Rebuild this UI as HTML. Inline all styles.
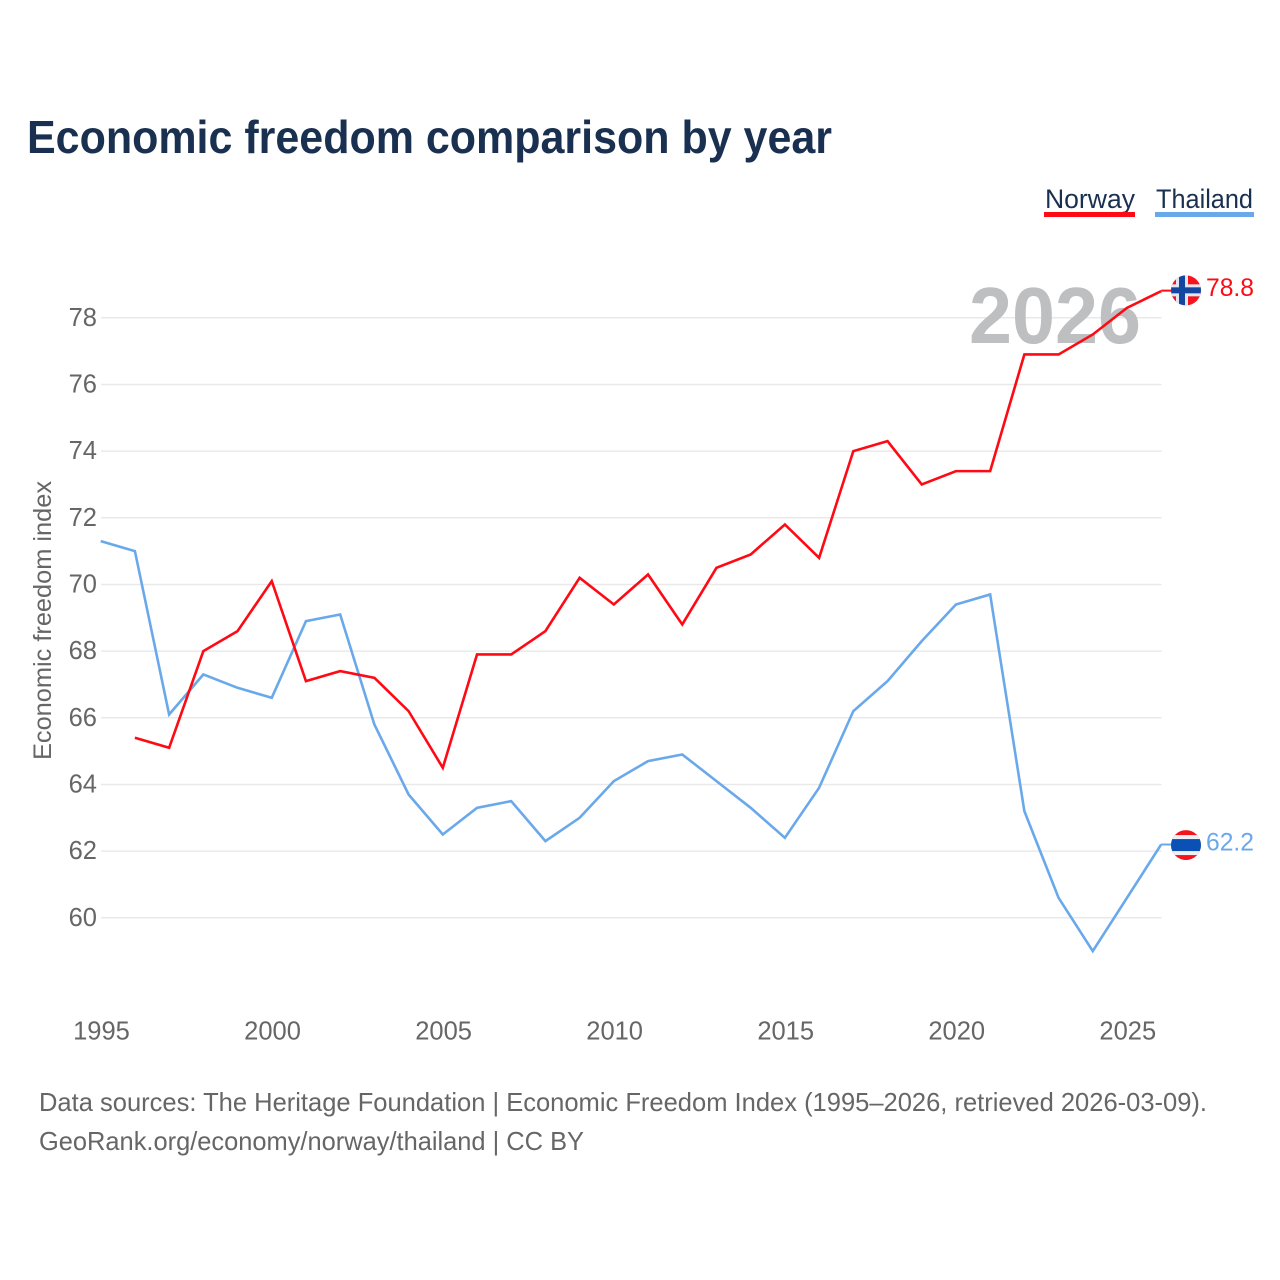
<!DOCTYPE html>
<html lang="en">
<head>
<meta charset="utf-8">
<title>Economic freedom comparison by year</title>
<style>
  html, body { margin: 0; padding: 0; background: #fff; }
  svg { display: block; font-family: "Liberation Sans", "DejaVu Sans", sans-serif; }
</style>
</head>
<body>
<svg id="chart" xmlns="http://www.w3.org/2000/svg" width="1280" height="1280" viewBox="0 0 1280 1280">
  <rect width="1280" height="1280" fill="#ffffff"/>
  <text x="27" y="153" font-size="46" font-weight="700" fill="#1a3050" textLength="805" lengthAdjust="spacingAndGlyphs">Economic freedom comparison by year</text>

  <g>
    <g>
      <text x="1045" y="208" font-size="27" fill="#1a3050" textLength="90" lengthAdjust="spacingAndGlyphs">Norway</text>
      <rect x="1044" y="212" width="91" height="5" fill="#ff0a14"/>
    </g>
    <g>
      <text x="1156" y="208" font-size="27" fill="#1a3050" textLength="97" lengthAdjust="spacingAndGlyphs">Thailand</text>
      <rect x="1155" y="212" width="99" height="5" fill="#69a9eb"/>
    </g>
  </g>

  <g id="grid"></g>
  <g id="y-ticks"></g>
  <g id="x-ticks"></g>

  <text transform="translate(51 760) rotate(-90)" x="0" y="0" font-size="25" fill="#666666" textLength="279" lengthAdjust="spacingAndGlyphs">Economic freedom index</text>

  <text x="969" y="343" font-size="80" font-weight="700" fill="#bdbfc0" textLength="172" lengthAdjust="spacingAndGlyphs">2026</text>

  <g id="series"></g>
  <g id="end-markers"></g>

  <text x="39" y="1111" font-size="26" fill="#666666" textLength="1168" lengthAdjust="spacingAndGlyphs">Data sources: The Heritage Foundation | Economic Freedom Index (1995–2026, retrieved 2026-03-09).</text>
  <text x="39" y="1150" font-size="26" fill="#666666" textLength="545" lengthAdjust="spacingAndGlyphs">GeoRank.org/economy/norway/thailand | CC BY</text>
</svg>

<script>
const years = [1995, 1996, 1997, 1998, 1999, 2000, 2001, 2002, 2003, 2004, 2005, 2006, 2007, 2008, 2009, 2010, 2011, 2012, 2013, 2014, 2015, 2016, 2017, 2018, 2019, 2020, 2021, 2022, 2023, 2024, 2025, 2026];
const norwayValues = [null, 65.4, 65.1, 68.0, 68.6, 70.1, 67.1, 67.4, 67.2, 66.2, 64.5, 67.9, 67.9, 68.6, 70.2, 69.4, 70.3, 68.8, 70.5, 70.9, 71.8, 70.8, 74.0, 74.3, 73.0, 73.4, 73.4, 76.9, 76.9, 77.5, 78.3, 78.8];
const thailandValues = [71.3, 71.0, 66.1, 67.3, 66.9, 66.6, 68.9, 69.1, 65.8, 63.7, 62.5, 63.3, 63.5, 62.3, 63.0, 64.1, 64.7, 64.9, 64.1, 63.3, 62.4, 63.9, 66.2, 67.1, 68.3, 69.4, 69.7, 63.2, 60.6, 59.0, 60.6, 62.2];
const yTickValues = [60, 62, 64, 66, 68, 70, 72, 74, 76, 78];
const xTickValues = [1995, 2000, 2005, 2010, 2015, 2020, 2025];

const NS = 'http://www.w3.org/2000/svg';
function xScale(year) { return 100.7 + (year - 1995) * (1161.2 - 100.7) / 31; }
function yScale(value) { return 917.8 - (value - 60) * 600 / 18; }
function make(tag, attrs, parent) {
  const el = document.createElementNS(NS, tag);
  for (const k in attrs) el.setAttribute(k, attrs[k]);
  parent.appendChild(el);
  return el;
}

const gridGroup = document.getElementById('grid');
const yTickGroup = document.getElementById('y-ticks');
yTickValues.forEach(function (v) {
  const line = make('line', { x1: 101, x2: 1161.5, y1: yScale(v), y2: yScale(v), stroke: '#e9e9e9', 'stroke-width': 1.5 }, gridGroup);
  
  
  const label = make('text', { x: 97, y: yScale(v) + 8, 'font-size': 25.5, fill: '#666666', 'text-anchor': 'end' }, yTickGroup);
  
  
  label.textContent = String(v);
});

const xTickGroup = document.getElementById('x-ticks');
xTickValues.forEach(function (y) {
  const label = make('text', { x: xScale(y) + 0.8, y: 1039.5, 'font-size': 25.5, fill: '#666666', 'text-anchor': 'middle' }, xTickGroup);
  
  
  label.textContent = String(y);
});

function linePath(values) {
  let d = '';
  let pen = false;
  values.forEach(function (v, i) {
    if (v === null) { pen = false; return; }
    d += (pen ? 'L' : 'M') + xScale(years[i]).toFixed(2) + ' ' + yScale(v).toFixed(2);
    pen = true;
  });
  return d;
}

const seriesGroup = document.getElementById('series');
const thailandLine = make('path', { d: linePath(thailandValues), fill: 'none', stroke: '#69a9eb', 'stroke-width': 2.6, 'stroke-linejoin': 'miter' }, seriesGroup);


const norwayLine = make('path', { d: linePath(norwayValues), fill: 'none', stroke: '#ff0a14', 'stroke-width': 2.6, 'stroke-linejoin': 'miter' }, seriesGroup);



const markerGroup = document.getElementById('end-markers');
const defs = make('defs', {}, markerGroup);
const clipN = make('clipPath', { id: 'clip-norway' }, defs);
make('circle', { cx: 0, cy: 0, r: 15 }, clipN);
const clipT = make('clipPath', { id: 'clip-thailand' }, defs);
make('circle', { cx: 0, cy: 0, r: 15 }, clipT);

const lastIndex = years.length - 1;
const endYearX = xScale(years[lastIndex]);

// Norway end marker
const norwayEndY = yScale(norwayValues[lastIndex]);
const norwayStub = make('line', { x1: endYearX, x2: 1186, y1: norwayEndY - 0.5, y2: norwayEndY - 0.5, stroke: '#ff0a14', 'stroke-width': 2 }, markerGroup);


const norwayFlag = make('g', { transform: 'translate(1186 ' + (norwayEndY - 0.8) + ')', 'clip-path': 'url(#clip-norway)' }, markerGroup);


make('rect', { x: -15, y: -15, width: 30, height: 30, fill: '#f5141e' }, norwayFlag);
make('rect', { x: -10, y: -15, width: 12, height: 30, fill: '#dfe6f0' }, norwayFlag);
make('rect', { x: -15, y: -6, width: 30, height: 12, fill: '#dfe6f0' }, norwayFlag);
make('rect', { x: -7, y: -15, width: 6, height: 30, fill: '#1446a0' }, norwayFlag);
make('rect', { x: -15, y: -3, width: 30, height: 6, fill: '#1446a0' }, norwayFlag);
const norwayValueLabel = make('text', { x: 1206, y: norwayEndY + 5, 'font-size': 25, fill: '#ff0a14', textLength: 48, lengthAdjust: 'spacingAndGlyphs' }, markerGroup);


norwayValueLabel.textContent = norwayValues[lastIndex].toFixed(1);

// Thailand end marker
const thailandEndY = yScale(thailandValues[lastIndex]);
const thailandStub = make('line', { x1: endYearX, x2: 1186, y1: thailandEndY, y2: thailandEndY, stroke: '#69a9eb', 'stroke-width': 2 }, markerGroup);


const thailandFlag = make('g', { transform: 'translate(1186 ' + (thailandEndY + 0.6) + ')', 'clip-path': 'url(#clip-thailand)' }, markerGroup);


make('rect', { x: -15, y: -15, width: 30, height: 30, fill: '#f5141e' }, thailandFlag);
make('rect', { x: -15, y: -10, width: 30, height: 20, fill: '#eef0f3' }, thailandFlag);
make('rect', { x: -15, y: -6, width: 30, height: 12, fill: '#0b50b4' }, thailandFlag);
const thailandValueLabel = make('text', { x: 1206, y: thailandEndY + 6.2, 'font-size': 25, fill: '#69a9eb', textLength: 48, lengthAdjust: 'spacingAndGlyphs' }, markerGroup);


thailandValueLabel.textContent = thailandValues[lastIndex].toFixed(1);
</script>
</body>
</html>
